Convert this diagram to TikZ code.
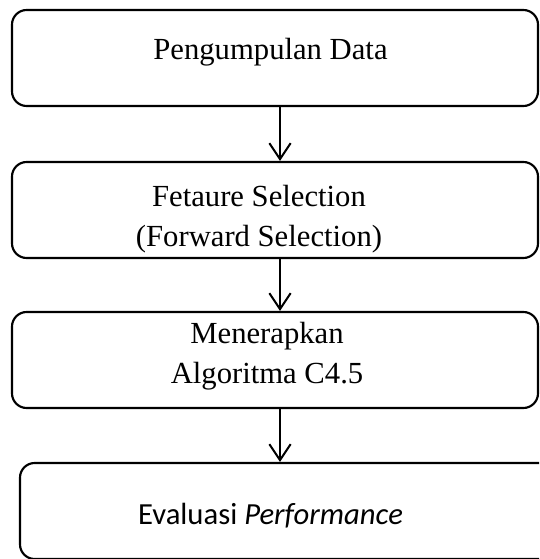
\documentclass[tikz,border=0pt]{standalone}
\usepackage{fontspec}
\setmainfont{Liberation Serif}
\newfontfamily\calibrifont{Carlito}
\usetikzlibrary{arrows.meta}

\tikzset{
  stepbox/.style={draw, line width=1.6pt, rounded corners=11pt, inner sep=0pt,
    minimum width=394.5pt, minimum height=72pt},
  steptext/.style={anchor=base, inner sep=0pt, align=center,
    font=\fontsize{23}{30}\selectfont},
  flowarrow/.style={line width=1.5pt, -{Straight Barb[length=12pt,width=16pt]}}
}

\begin{document}
\begin{tikzpicture}[x=0.75pt,y=0.75pt,yscale=-1,xscale=1]
    \useasboundingbox (0,0) rectangle (539,559);
    \clip (0,0) rectangle (539,559);
    
    \node [stepbox] (kumpul) at (275,58) {};
    \node [stepbox] (seleksi) at (275,210) {};
    \node [stepbox] (algo) at (275,360) {};
    \node [stepbox, minimum width=405pt] (eval) at (290,511) {};
    \coordinate (sumbu) at (280,0);
    
    \node [steptext] (tkumpul) at (270.5,60) {Pengumpulan Data};
    \node [steptext] (tseleksi) at (259,246.5) {Fetaure Selection\\(Forward Selection)};
    \node [steptext] (talgo) at (267,383) {Menerapkan\\Algoritma C4.5};
    \node [steptext, font=\calibrifont\fontsize{23}{30}\selectfont] (teval) at (270.5,524) {Evaluasi \textit{Performance}};
    
    \draw [flowarrow] (kumpul.south -| sumbu) -- (seleksi.north -| sumbu);
    \draw [flowarrow] (seleksi.south -| sumbu) -- (algo.north -| sumbu);
    \draw [flowarrow] (algo.south -| sumbu) -- (eval.north -| sumbu);
\end{tikzpicture}
\end{document}
